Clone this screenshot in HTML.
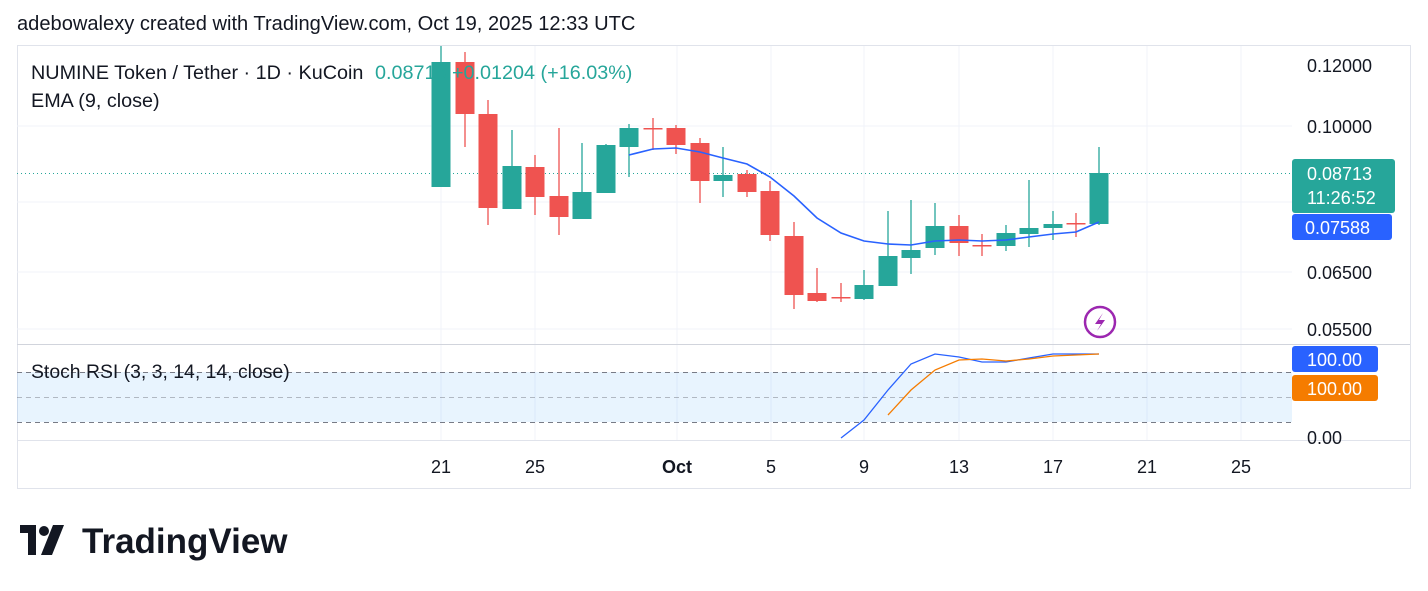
<!DOCTYPE html>
<html><head><meta charset="utf-8"><style>
body{margin:0;width:1428px;height:591px;background:#fff;font-family:"Liberation Sans",Arial,sans-serif;position:relative;overflow:hidden;color:#131722}
.t{position:absolute;white-space:nowrap}
</style></head><body>
<div class="t" style="left:17px;top:13px;font-size:20.1px;color:#131722">adebowalexy created with TradingView.com, Oct 19, 2025 12:33 UTC</div>
<svg width="1428" height="591" style="position:absolute;left:0;top:0">
<rect x="17.5" y="45.5" width="1393" height="443" fill="none" stroke="#e0e3eb"/>
<g stroke="#f0f3fa" stroke-width="1">
<line x1="441" y1="46" x2="441" y2="440"/><line x1="535" y1="46" x2="535" y2="440"/><line x1="677" y1="46" x2="677" y2="440"/><line x1="771" y1="46" x2="771" y2="440"/><line x1="864" y1="46" x2="864" y2="440"/><line x1="959" y1="46" x2="959" y2="440"/><line x1="1053" y1="46" x2="1053" y2="440"/><line x1="1147" y1="46" x2="1147" y2="440"/><line x1="1241" y1="46" x2="1241" y2="440"/>
<line x1="17" y1="126" x2="1292" y2="126"/><line x1="17" y1="202" x2="1292" y2="202"/><line x1="17" y1="272" x2="1292" y2="272"/><line x1="17" y1="329" x2="1292" y2="329"/>
</g>
<line x1="17" y1="344.5" x2="1410" y2="344.5" stroke="#d1d4dc"/>
<line x1="17" y1="440.5" x2="1410" y2="440.5" stroke="#e0e3eb"/>
<line x1="17" y1="173.5" x2="1292" y2="173.5" stroke="#26a69a" stroke-dasharray="1,3"/>
<rect x="17" y="372" width="1275" height="50" fill="#2196f3" fill-opacity="0.1"/>
<g stroke="#787b86" stroke-dasharray="5,4"><line x1="17" y1="372.5" x2="1292" y2="372.5"/><line x1="17" y1="397.5" x2="1292" y2="397.5" stroke-opacity="0.5"/><line x1="17" y1="422.5" x2="1292" y2="422.5"/></g>
<g id="c"></g>
<polyline fill="none" stroke="#2962ff" stroke-width="1.6" points="629,155 653,149 676,148 700,152 723,158 747,164 770,177 794,196 817,218 841,233 864,241 888,244 911,245 935,241 959,240 982,241 1006,240 1029,237 1053,234 1076,232 1099,222"/>
<polyline fill="none" stroke="#2962ff" stroke-width="1.3" points="841,438 864,420 888,390 911,364 935,354 959,357 982,362 1006,362 1029,358 1053,354 1076,354 1099,354"/>
<polyline fill="none" stroke="#f57c00" stroke-width="1.3" points="888,415 911,390 935,370 959,360 982,359 1006,361 1029,359 1053,356 1076,355 1099,354"/>
<circle cx="1100" cy="322" r="15" fill="none" stroke="#9c27b0" stroke-width="2.5"/>
<path d="M1103,313 L1095,324 L1101,324 L1097,331 L1105,320 L1099,320 Z" fill="#9c27b0"/>
<rect x="1292" y="159" width="103" height="54" rx="3" fill="#26a69a"/>
<rect x="1292" y="214" width="100" height="26" rx="3" fill="#2962ff"/>
<rect x="1292" y="346" width="86" height="26" rx="3" fill="#2962ff"/>
<rect x="1292" y="375" width="86" height="26" rx="3" fill="#f57c00"/>
<g font-family="Liberation Sans,Arial,sans-serif" font-size="18" fill="#131722">
<text x="1307" y="72">0.12000</text><text x="1307" y="133">0.10000</text><text x="1307" y="279">0.06500</text><text x="1307" y="336">0.05500</text>
<text x="1307" y="180" fill="#fff">0.08713</text><text x="1307" y="204" fill="#fff">11:26:52</text><text x="1305" y="234" fill="#fff">0.07588</text>
<text x="1307" y="366" fill="#fff">100.00</text><text x="1307" y="395" fill="#fff">100.00</text><text x="1307" y="444">0.00</text>
<g text-anchor="middle"><text x="441" y="473">21</text><text x="535" y="473">25</text><text x="677" y="473" font-weight="bold">Oct</text><text x="771" y="473">5</text><text x="864" y="473">9</text><text x="959" y="473">13</text><text x="1053" y="473">17</text><text x="1147" y="473">21</text><text x="1241" y="473">25</text></g>
<g font-size="19.8">
<text x="31" y="79">NUMINE Token / Tether · 1D · KuCoin</text>
<text x="31" y="107">EMA (9, close)</text>
<text x="31" y="378" font-size="19.4">Stoch RSI (3, 3, 14, 14, close)</text>
<text x="375" y="79" fill="#26a69a">0.08713  +0.01204 (+16.03%)</text>
</g>
</g>
<g transform="translate(20,525)" fill="#131722">
<path d="M0,0 H16 V30 H8 V8 H0 Z"/><circle cx="24" cy="6" r="5"/><path d="M33,0 H44 L32,30 H21 Z"/>
</g>
<text x="82" y="553" font-family="Liberation Sans,Arial,sans-serif" font-size="35" font-weight="bold" fill="#131722">TradingView</text>
</svg>
<script>
var d=[[441,62,187,46,187,1],[465,62,114,52,147,0],[488,114,208,100,225,0],[512,166,209,130,209,1],[535,167,197,155,215,0],[559,196,217,128,235,0],[582,192,219,143,219,1],[606,145,193,144,193,1],[629,128,147,124,177,1],[653,128,129,118,150,0],[676,128,145,125,154,0],[700,143,181,138,203,0],[723,175,181,147,197,1],[747,174,192,170,197,0],[770,191,235,181,241,0],[794,236,295,222,309,0],[817,293,301,268,302,0],[841,297,298,283,302,0],[864,285,299,270,300,1],[888,256,286,211,286,1],[911,250,258,200,274,1],[935,226,248,203,255,1],[959,226,243,215,256,0],[982,245,246,234,256,0],[1006,233,246,225,251,1],[1029,228,234,180,247,1],[1053,224,228,211,240,1],[1076,223,224,213,237,0],[1099,173,224,147,225,1]];
var s='';d.forEach(function(c){var col=c[5]?'#26a69a':'#ef5350';s+='<line x1="'+c[0]+'" x2="'+c[0]+'" y1="'+c[3]+'" y2="'+c[4]+'" stroke="'+col+'" stroke-width="1.3"/><rect x="'+(c[0]-9.5)+'" y="'+c[1]+'" width="19" height="'+Math.max(c[2]-c[1],1.5)+'" fill="'+col+'"/>';});
document.getElementById('c').innerHTML=s;
</script>
</body></html>
